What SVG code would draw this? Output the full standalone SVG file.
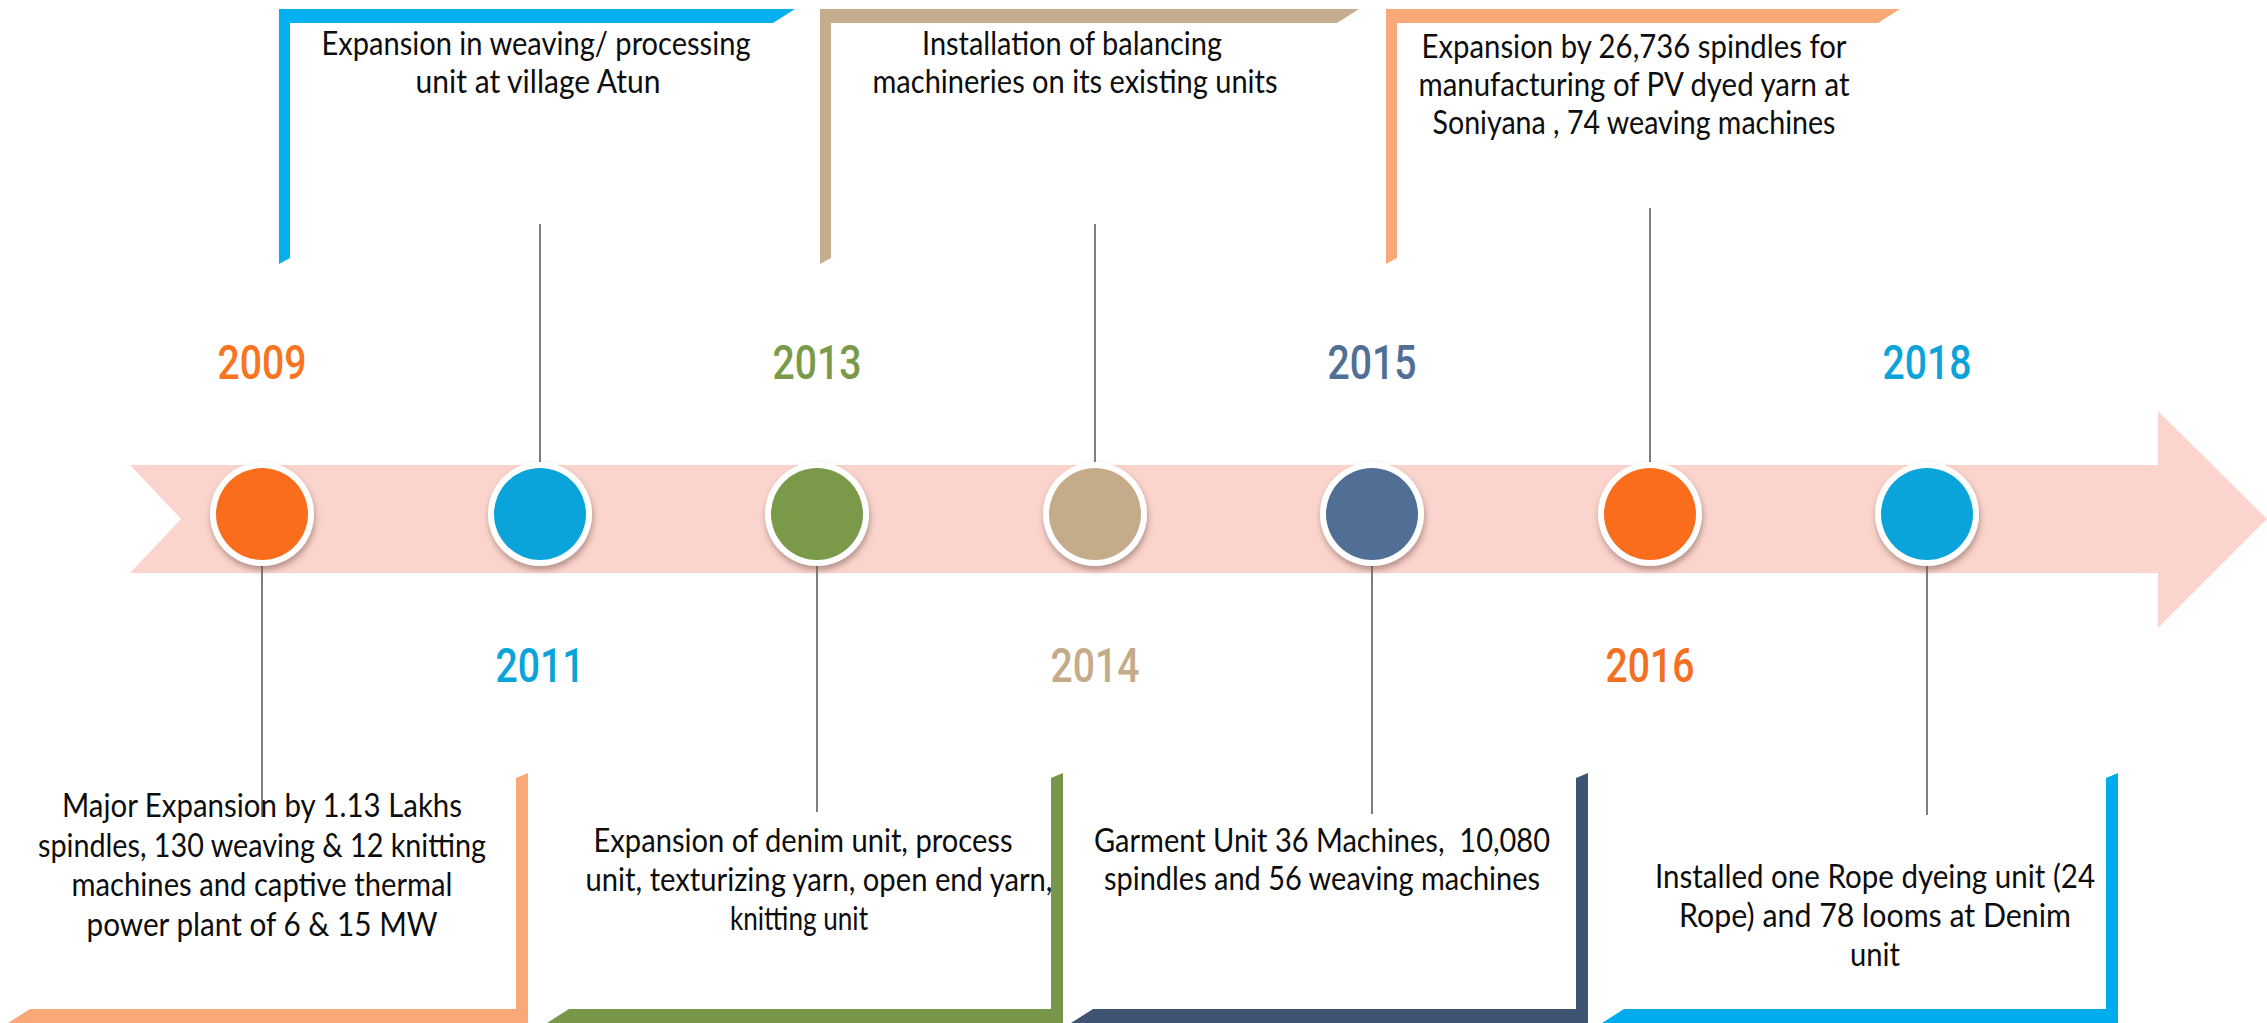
<svg xmlns="http://www.w3.org/2000/svg" width="2267" height="1023" viewBox="0 0 2267 1023">
<style>
.body{font-family:Lato,"Open Sans","Liberation Sans",sans-serif;font-size:32px;fill:#0d0d0d;text-anchor:middle}
.year{font-family:Roboto,"Liberation Sans",sans-serif;font-size:48px;font-weight:500;text-anchor:middle}
.conn{stroke:#7f7f7f;stroke-width:2;fill:none}
.ring{fill:#ffffff;filter:url(#sh)}
</style>
<defs>
<filter id="sh" x="-30%" y="-30%" width="160%" height="170%">
<feDropShadow dx="1" dy="4" stdDeviation="3" flood-color="#5a3a30" flood-opacity="0.45"/>
</filter>
</defs>
<rect width="2267" height="1023" fill="#ffffff"/>
<g id="timeline-arrow">
<polygon fill="#FBD5CD" points="130,465 2158,465 2158,411 2267,519 2158,628 2158,573 130,573 181,519"/>
</g>
<g id="connectors">
<line class="conn" x1="262" y1="566" x2="262" y2="817"/>
<line class="conn" x1="540" y1="224" x2="540" y2="463"/>
<line class="conn" x1="817" y1="566" x2="817" y2="812"/>
<line class="conn" x1="1095" y1="224" x2="1095" y2="463"/>
<line class="conn" x1="1372" y1="566" x2="1372" y2="814"/>
<line class="conn" x1="1650" y1="208" x2="1650" y2="463"/>
<line class="conn" x1="1927" y1="566" x2="1927" y2="815"/>
</g>
<g id="node-2009">
<circle class="ring" cx="262" cy="514" r="52"/>
<circle cx="262" cy="514" r="46" fill="#F96D1C"/>
<text class="year" x="262" y="379" fill="#F97420" textLength="89" lengthAdjust="spacingAndGlyphs">2009</text>
<polygon fill="#F9A878" points="528,773 528,1023 8,1023 30,1009 516,1009 516,778"/>
<text class="body" x="262" y="817" textLength="400" lengthAdjust="spacingAndGlyphs">Major Expansion by 1.13 Lakhs</text>
<text class="body" x="262" y="857" textLength="448" lengthAdjust="spacingAndGlyphs">spindles, 130 weaving &amp; 12 knitting</text>
<text class="body" x="262" y="896" textLength="381" lengthAdjust="spacingAndGlyphs">machines and captive thermal</text>
<text class="body" x="262" y="936" textLength="351" lengthAdjust="spacingAndGlyphs">power plant of 6 &amp; 15 MW</text>
</g>
<g id="node-2011">
<circle class="ring" cx="540" cy="514" r="52"/>
<circle cx="540" cy="514" r="46" fill="#0AA3DA"/>
<text class="year" x="540" y="682" fill="#0AA3DA" textLength="89" lengthAdjust="spacingAndGlyphs">2011</text>
<polygon fill="#00B0F0" points="279,9 795,9 773,23 290,23 290,258 279,264"/>
<text class="body" x="536" y="55" textLength="429" lengthAdjust="spacingAndGlyphs">Expansion in weaving/ processing</text>
<text class="body" x="538" y="93" textLength="245" lengthAdjust="spacingAndGlyphs">unit at village Atun</text>
</g>
<g id="node-2013">
<circle class="ring" cx="817" cy="514" r="52"/>
<circle cx="817" cy="514" r="46" fill="#7A9A4A"/>
<text class="year" x="817" y="379" fill="#7A9A4A" textLength="89" lengthAdjust="spacingAndGlyphs">2013</text>
<polygon fill="#779649" points="1063,773 1063,1023 547,1023 569,1009 1051,1009 1051,778"/>
<text class="body" x="803" y="852" textLength="419" lengthAdjust="spacingAndGlyphs">Expansion of denim unit, process</text>
<text class="body" x="819" y="891" textLength="467" lengthAdjust="spacingAndGlyphs">unit, texturizing yarn, open end yarn,</text>
<text class="body" x="799" y="930" textLength="138" lengthAdjust="spacingAndGlyphs">knitting unit</text>
</g>
<g id="node-2014">
<circle class="ring" cx="1095" cy="514" r="52"/>
<circle cx="1095" cy="514" r="46" fill="#C4AB89"/>
<text class="year" x="1095" y="682" fill="#C4AB89" textLength="89" lengthAdjust="spacingAndGlyphs">2014</text>
<polygon fill="#C4AD8D" points="820,9 1359,9 1337,23 831,23 831,258 820,264"/>
<text class="body" x="1072" y="55" textLength="300" lengthAdjust="spacingAndGlyphs">Installation of balancing</text>
<text class="body" x="1075" y="93" textLength="405" lengthAdjust="spacingAndGlyphs">machineries on its existing units</text>
</g>
<g id="node-2015">
<circle class="ring" cx="1372" cy="514" r="52"/>
<circle cx="1372" cy="514" r="46" fill="#516F95"/>
<text class="year" x="1372" y="379" fill="#516F95" textLength="89" lengthAdjust="spacingAndGlyphs">2015</text>
<polygon fill="#3E5472" points="1588,773 1588,1023 1071,1023 1093,1009 1576,1009 1576,778"/>
<text class="body" x="1322" y="852" textLength="456" lengthAdjust="spacingAndGlyphs">Garment Unit 36 Machines,&#160; 10,080</text>
<text class="body" x="1322" y="890" textLength="436" lengthAdjust="spacingAndGlyphs">spindles and 56 weaving machines</text>
</g>
<g id="node-2016">
<circle class="ring" cx="1650" cy="514" r="52"/>
<circle cx="1650" cy="514" r="46" fill="#F96D1C"/>
<text class="year" x="1650" y="682" fill="#F36F22" textLength="89" lengthAdjust="spacingAndGlyphs">2016</text>
<polygon fill="#F9A878" points="1386,9 1900,9 1878,23 1397,23 1397,258 1386,264"/>
<text class="body" x="1634" y="58" textLength="425" lengthAdjust="spacingAndGlyphs">Expansion by 26,736 spindles for</text>
<text class="body" x="1634" y="96" textLength="431" lengthAdjust="spacingAndGlyphs">manufacturing of PV dyed yarn at</text>
<text class="body" x="1634" y="134" textLength="403" lengthAdjust="spacingAndGlyphs">Soniyana , 74 weaving machines</text>
</g>
<g id="node-2018">
<circle class="ring" cx="1927" cy="514" r="52"/>
<circle cx="1927" cy="514" r="46" fill="#0AA3DA"/>
<text class="year" x="1927" y="379" fill="#0AA3DA" textLength="89" lengthAdjust="spacingAndGlyphs">2018</text>
<polygon fill="#00ACEC" points="2118,773 2118,1023 1602,1023 1624,1009 2106,1009 2106,778"/>
<text class="body" x="1875" y="888" textLength="440" lengthAdjust="spacingAndGlyphs">Installed one Rope dyeing unit (24</text>
<text class="body" x="1875" y="927" textLength="392" lengthAdjust="spacingAndGlyphs">Rope) and 78 looms at Denim</text>
<text class="body" x="1875" y="966" textLength="50" lengthAdjust="spacingAndGlyphs">unit</text>
</g>
</svg>
